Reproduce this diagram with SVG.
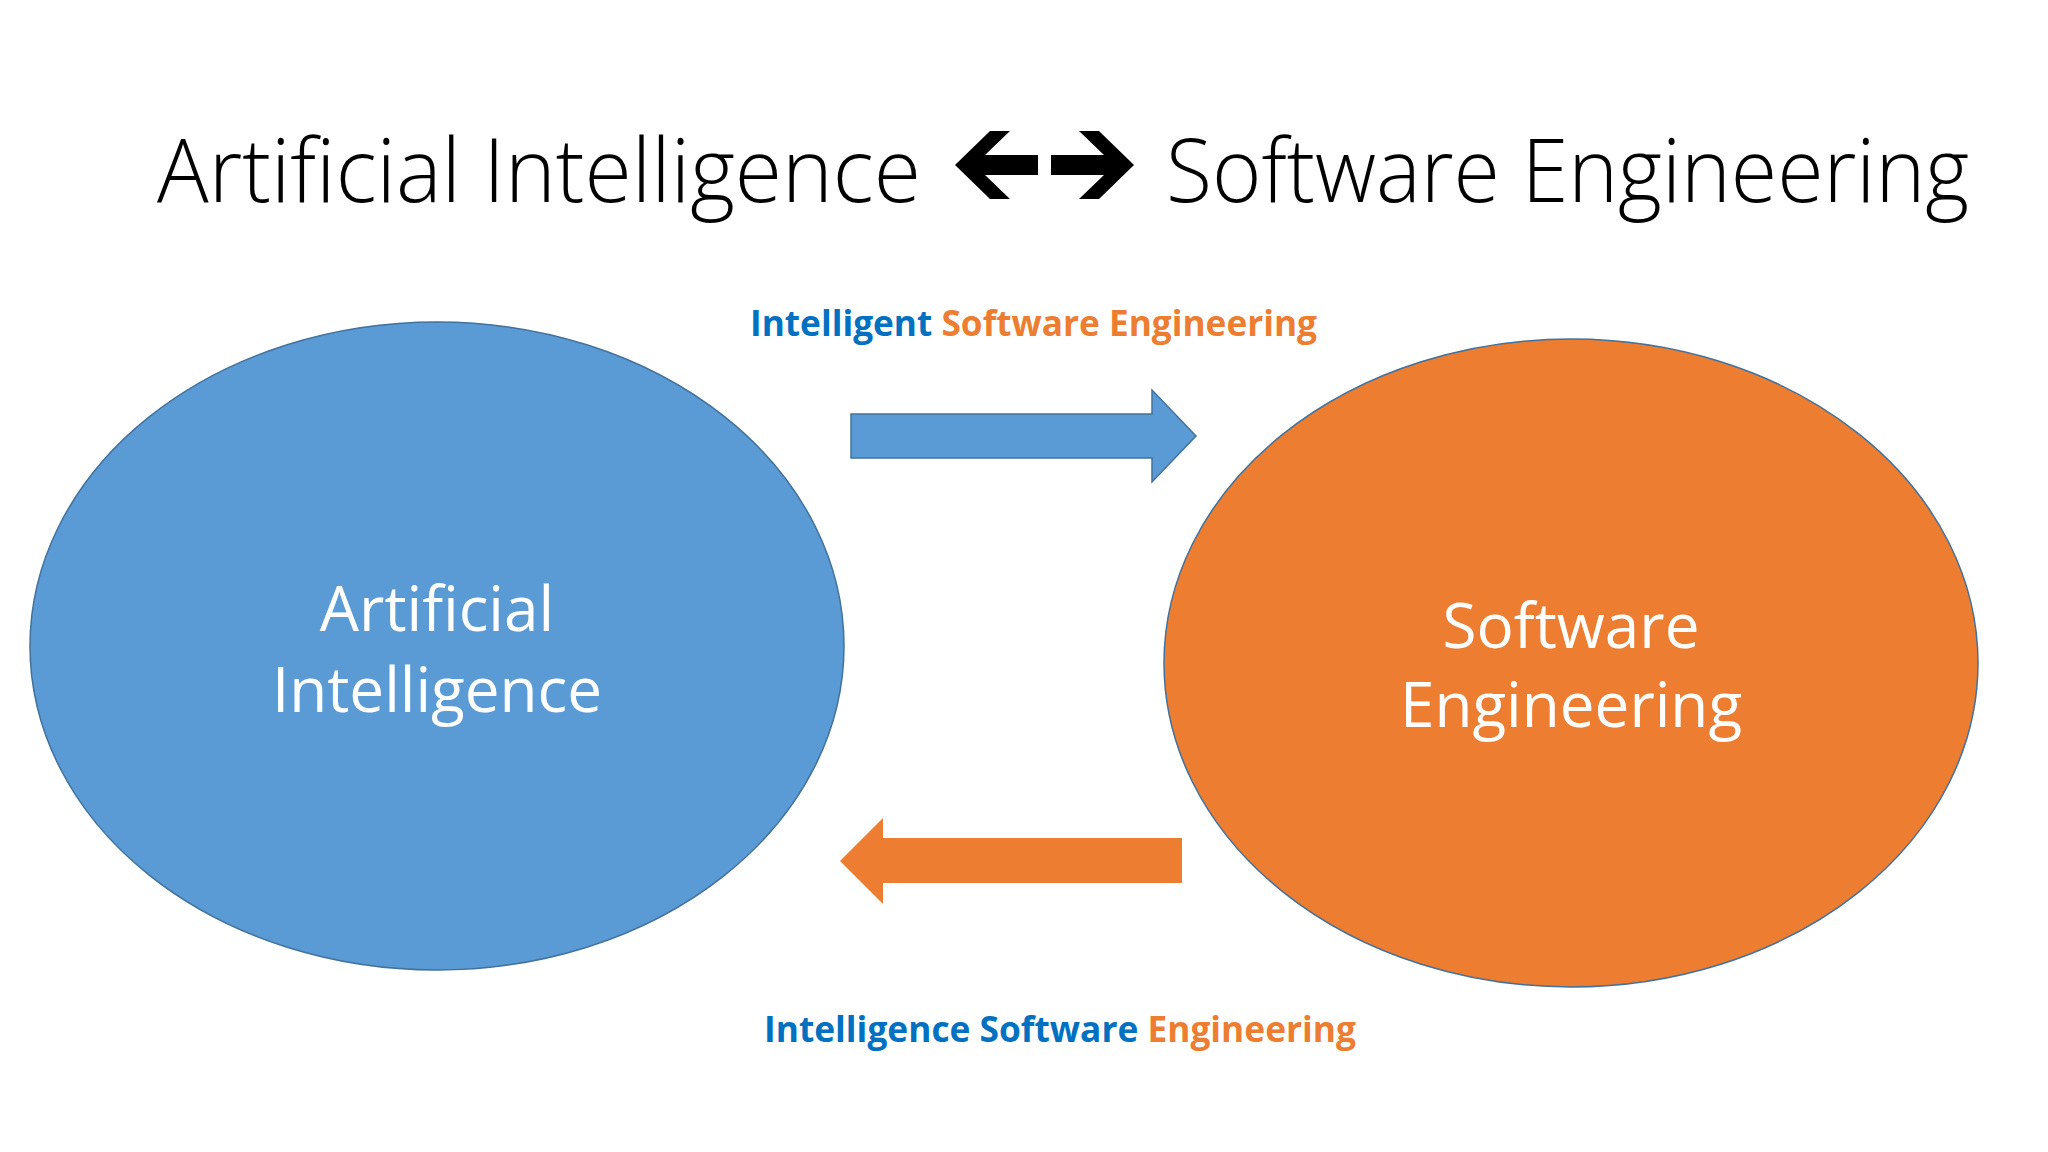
<svg xmlns="http://www.w3.org/2000/svg" width="2048" height="1152" viewBox="0 0 2048 1152">
<style>
.t{font-family:"Open Sans","Liberation Sans",sans-serif;font-weight:300;font-size:88px;fill:#000}
.n{font-family:"Open Sans","Liberation Sans",sans-serif;font-size:62px;fill:#fff;text-anchor:middle}
.l{font-family:"Open Sans","Liberation Sans",sans-serif;font-weight:700;font-size:36px}
.b{fill:#0070C0}.o{fill:#ED7D31}
</style>
<rect width="2048" height="1152" fill="#fff"/>
<g id="title">
<text class="t" x="157" y="202" textLength="764" lengthAdjust="spacingAndGlyphs">Artificial Intelligence</text>
<text class="t" x="1166" y="202" textLength="803" lengthAdjust="spacingAndGlyphs">Software Engineering</text>
<path d="M1038,155 H985 L1010,131 H990 L955,165 L990,199 H1010 L985,175 H1038 Z" fill="#000"/>
<path d="M1051,155 H1104 L1079,131 H1099 L1134,165 L1099,199 H1079 L1104,175 H1051 Z" fill="#000"/>
</g>
<g id="ai">
<ellipse cx="437" cy="646" rx="407" ry="324" fill="#5B9BD5" stroke="#41719C" stroke-width="1.5"/>
<text class="n" x="437" y="631">Artificial</text>
<text class="n" x="437" y="712">Intelligence</text>
</g>
<g id="se">
<ellipse cx="1571" cy="663" rx="407" ry="324" fill="#ED7D31" stroke="#41719C" stroke-width="1.5"/>
<text class="n" x="1571" y="648">Software</text>
<text class="n" x="1571" y="727">Engineering</text>
</g>
<g id="connectors">
<path d="M851,414 H1152 V390 L1196,436 L1152,482 V458 H851 Z" fill="#5B9BD5" stroke="#41719C" stroke-width="1.5"/>
<path d="M1182,838 H883 V818 L840,861 L883,904 V883 H1182 Z" fill="#ED7D31"/>
</g>
<g id="labels">
<text class="l" x="750" y="336" textLength="567" lengthAdjust="spacingAndGlyphs"><tspan class="b">Intelligent </tspan><tspan class="o">Software Engineering</tspan></text>
<text class="l" x="764" y="1042" textLength="592" lengthAdjust="spacingAndGlyphs"><tspan class="b">Intelligence Software </tspan><tspan class="o">Engineering</tspan></text>
</g>
</svg>
